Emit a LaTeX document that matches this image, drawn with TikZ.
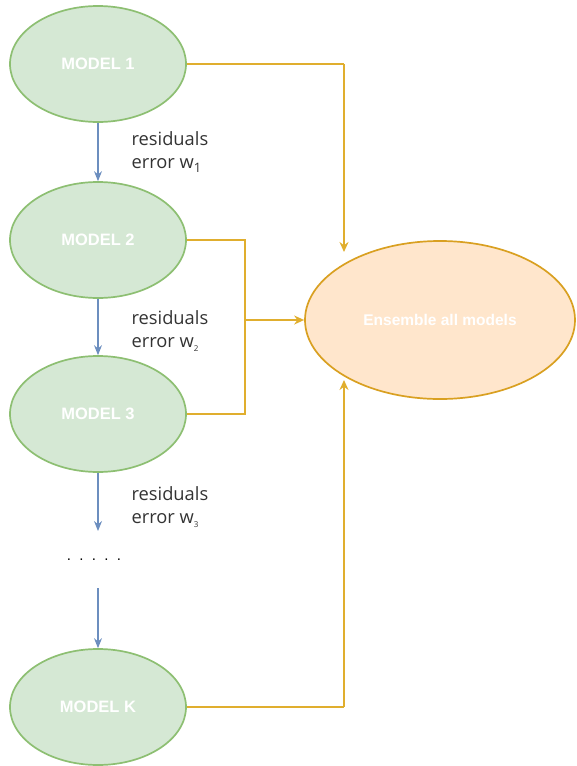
\documentclass[tikz,border=0pt]{standalone}
\usepackage{fontspec}
\setmainfont{Liberation Sans}
\newfontfamily\labelfont{Open Sans}
\usetikzlibrary{shapes.geometric,arrows.meta}
\definecolor{mgreenfill}{HTML}{D5E8D4}
\definecolor{mgreenline}{HTML}{8DBF72}
\definecolor{ensfill}{HTML}{FFE6CC}
\definecolor{ensline}{HTML}{D9A021}
\definecolor{linkgold}{HTML}{E0AE2E}
\definecolor{flowblue}{HTML}{6C8EBF}
\newcommand{\wsub}[2]{\raisebox{-3.5pt}{\fontsize{#1}{#1}\selectfont #2}}
\begin{document}
\begin{tikzpicture}[x=1pt,y=-1pt,
  model/.style={ellipse,draw=mgreenline,fill=mgreenfill,line width=1.7pt,
    minimum width=176pt,minimum height=116pt,inner sep=0pt,
    text=white,font=\bfseries\fontsize{16.5}{18}\selectfont},
  ensemble/.style={ellipse,draw=ensline,fill=ensfill,line width=1.7pt,
    minimum width=270pt,minimum height=158pt,inner sep=0pt,
    text=white,font=\bfseries\fontsize{15.5}{17}\selectfont},
  flow/.style={draw=flowblue,line width=1.4pt,-{Stealth[length=10pt,width=8pt]}},
  link/.style={draw=linkgold,line width=1.6pt},
  linkarrow/.style={link,-{Stealth[length=10pt,width=9pt]}},
  resid/.style={anchor=west,align=left,text=black!80,
    font=\labelfont\fontsize{18.3}{23}\selectfont}
]
\useasboundingbox (0,0) rectangle (576,766);

% model chain
\node[model] (m1) at (98,64) {MODEL 1};
\node[model] (m2) at (98,240) {MODEL 2};
\node[model] (m3) at (98,414) {MODEL 3};
\node[model] (mk) at (98,707) {MODEL K};

% ensemble node
\node[ensemble] (ens) at (440,320) {Ensemble all models};

% residual flow between models
\coordinate (gapTop) at (98,531);
\coordinate (gapBot) at (98,588);
\node (dots) at (94,560) {\fontsize{15}{17}\selectfont .\ \ .\ \ .\ \ .\ \ .};
\draw[flow] (m1.south) -- (m2.north);
\draw[flow] (m2.south) -- (m3.north);
\draw[flow] (m3.south) -- (gapTop);
\draw[flow] (gapBot) -- (mk.north);

\node[resid] (r1) at (128,152) {residuals\\error w\wsub{13}{1}};
\node[resid] (r2) at (128,331) {residuals\\error w\wsub{8}{2}};
\node[resid] (r3) at (128,507) {residuals\\error w\wsub{8}{3}};

% connections into the ensemble
\coordinate (c1) at (344,64);
\coordinate (e1) at (344,252);
\coordinate (jTop) at (245,240);
\coordinate (jBot) at (245,414);
\coordinate (j) at (245,320);
\coordinate (ck) at (344,707);
\coordinate (ek) at (344,380);

\draw[link] (m1.east) -- (c1);
\draw[linkarrow] (c1) -- (e1);
\draw[link] (m2.east) -- (jTop) -- (jBot) -- (m3.east);
\draw[linkarrow] (j) -- (ens.west);
\draw[link] (mk.east) -- (ck);
\draw[linkarrow] (ck) -- (ek);
\end{tikzpicture}
\end{document}
